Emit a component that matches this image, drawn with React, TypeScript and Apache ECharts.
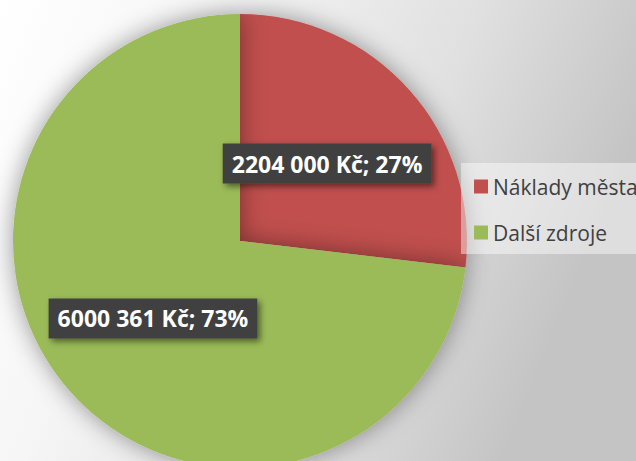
import React, { useEffect, useRef } from "react";
import * as echarts from "echarts";

const categories = ["Náklady města", "Další zdroje"];
const values = [2204000, 6000361];
const colors = ["#c0504d", "#9bbb59"];

function fmtValue(v: number): string {
  const hi = Math.floor(v / 1000);
  const lo = String(v % 1000).padStart(3, "0");
  return hi + " " + lo;
}

export default function App() {
  const ref = useRef<HTMLDivElement>(null);
  useEffect(() => {
    document.body.style.margin = "0";
    const chart = echarts.init(ref.current!, null, { renderer: "svg" });
    const total = values.reduce((a, b) => a + b, 0);
    chart.setOption({
      animation: false,
      backgroundColor: {
        type: "linear",
        x: 0,
        y: 0,
        x2: 1,
        y2: 0.3,
        colorStops: [
          { offset: 0, color: "#ffffff" },
          { offset: 0.3, color: "#f6f6f6" },
          { offset: 0.7, color: "#e0e0e0" },
          { offset: 1, color: "#c4c4c4" },
        ],
      },
      legend: {
        orient: "vertical",
        left: 461,
        top: 163,
        backgroundColor: "rgba(255,255,255,0.45)",
        padding: [13, 40, 11, 13],
        itemWidth: 14,
        itemHeight: 14,
        itemGap: 25,
        icon: "rect",
        textStyle: { fontSize: 21, color: "#404040", fontFamily: "Open Sans" },
        data: categories,
      },
      series: [
        {
          type: "pie",
          center: [240, 241],
          radius: 227,
          startAngle: 90,
          clockwise: true,
          itemStyle: {
            shadowBlur: 24,
            shadowColor: "rgba(0,0,0,0.4)",
            shadowOffsetX: 0,
            shadowOffsetY: 0,
          },
          label: {
            show: true,
            position: "inside",
            formatter: (p: any) =>
              fmtValue(p.value) + " Kč; " + Math.round((p.value / total) * 100) + "%",
            color: "#ffffff",
            fontWeight: "bold",
            fontSize: 23,
            fontFamily: "Open Sans",
            backgroundColor: "#404040",
            padding: [9, 9, 8, 9],
            shadowBlur: 6,
            shadowOffsetX: 3,
            shadowOffsetY: 3,
            shadowColor: "rgba(0,0,0,0.5)",
          },
          labelLine: { show: false },
          emphasis: { disabled: true },
          data: categories.map((c, i) => ({
            name: c,
            value: values[i],
            itemStyle: { color: colors[i] },
          })),
        },
      ],
    });
    return () => chart.dispose();
  }, []);
  return <div ref={ref} style={{ width: 636, height: 461 }} />;
}
